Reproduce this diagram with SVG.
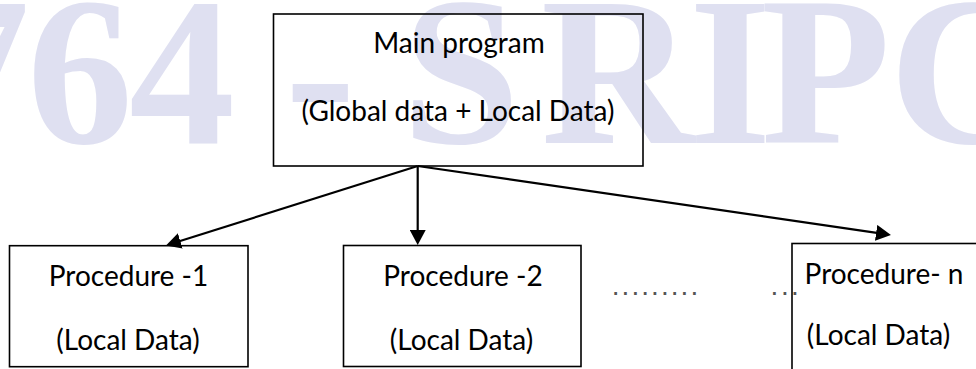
<svg xmlns="http://www.w3.org/2000/svg" width="976" height="369" viewBox="0 0 976 369">
  <style>
    .box { fill: none; stroke: #000; stroke-width: 1.6; }
    .lbl { font-family: Lato, "Open Sans", sans-serif; font-size: 28px; fill: #000; text-anchor: middle; }
    .wire { stroke: #000; stroke-width: 2.2; fill: none; marker-end: url(#head); }
    .dots { font-family: "Liberation Sans", Arial, sans-serif; font-size: 28px; fill: #555; }
    .mark { font-family: "Liberation Serif", "Times New Roman", serif; font-weight: bold; font-size: 212px; fill: #dfe0f1; }
  </style>
  <defs>
    <marker id="head" markerUnits="userSpaceOnUse" markerWidth="16" markerHeight="16" refX="11" refY="8" orient="auto">
      <path d="M0,0 L15,8 L0,16 Z" fill="#000"/>
    </marker>
  </defs>

  <rect width="976" height="369" fill="#fff"/>

  <!-- background watermark -->
  <text class="mark" y="143" x="-76 27 129 230 285 340 402 541 689 761 889">764 - SRIPC</text>

  <g id="connectors">
    <line class="wire" x1="417.7" y1="166" x2="169.8" y2="244.3"/>
    <line class="wire" x1="417.7" y1="166" x2="417.7" y2="241"/>
    <line class="wire" x1="417.7" y1="166" x2="887" y2="234.4"/>
  </g>

  <g id="main-program">
    <rect class="box" x="273.5" y="14" width="369.5" height="152"/>
    <text class="lbl" x="459" y="53">Main program</text>
    <text class="lbl" x="458" y="121">(Global data + Local Data)</text>
  </g>

  <g id="procedure-1">
    <rect class="box" x="9.5" y="245.7" width="238.5" height="121"/>
    <text class="lbl" x="128.5" y="286">Procedure -1</text>
    <text class="lbl" x="128" y="350">(Local Data)</text>
  </g>

  <g id="procedure-2">
    <rect class="box" x="343.5" y="245.5" width="237.5" height="121"/>
    <text class="lbl" x="463" y="286">Procedure -2</text>
    <text class="lbl" x="461.5" y="350">(Local Data)</text>
  </g>

  <g id="procedure-n">
    <rect class="box" x="792" y="243.5" width="220" height="160"/>
    <text class="lbl" x="884" y="284">Procedure- n</text>
    <text class="lbl" x="878.5" y="345">(Local Data)</text>
  </g>

  <g id="ellipsis">
    <text class="dots" y="294.7" x="611.8 621.6 631.5 641.3 651.1 661 670.8 680.6 690.4">.........</text>
    <text class="dots" y="294.7" x="770.4 780.9 791.1">...</text>
  </g>
</svg>
